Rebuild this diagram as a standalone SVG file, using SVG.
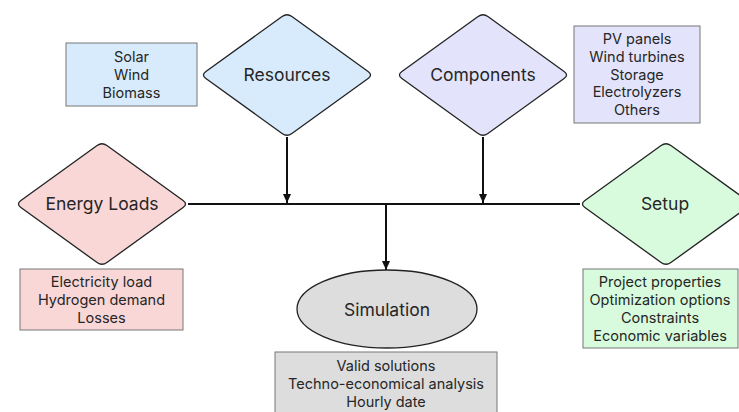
<svg xmlns="http://www.w3.org/2000/svg" xmlns:xlink="http://www.w3.org/1999/xlink" width="739" height="412" viewBox="0 0 739 412">
<style>
.dia{stroke:#222;stroke-width:1.3}
.box{stroke:#777;stroke-width:1}
.t{font-family:Inter,"Liberation Sans",sans-serif;fill:#262626;text-anchor:middle}
.big{font-size:17.5px}
.sm{font-size:14.5px}
.con{stroke:#111;stroke-width:2;fill:none}
</style>
<defs>
<path id="dshape" d="M -81.1 -3.5 L -4.9 -58.5 Q 0 -62 4.9 -58.5 L 81.1 -3.5 Q 86 0 81.1 3.5 L 4.9 58.5 Q 0 62 -4.9 58.5 L -81.1 3.5 Q -86 0 -81.1 -3.5 Z"/>
<marker id="arr" markerWidth="10" markerHeight="10" refX="9" refY="5" orient="auto" markerUnits="userSpaceOnUse">
<path d="M0,1 L9,5 L0,9 Z" fill="#111"/>
</marker>
</defs>
<rect width="739" height="412" fill="#fff"/>
<g id="connectors">
<line class="con" x1="188" y1="204" x2="580" y2="204"/>
<line class="con" x1="287" y1="137" x2="287" y2="203" marker-end="url(#arr)"/>
<line class="con" x1="483" y1="137" x2="483" y2="203" marker-end="url(#arr)"/>
<line class="con" x1="386" y1="204" x2="386" y2="270" marker-end="url(#arr)"/>
</g>
<g id="resources">
<use xlink:href="#dshape" x="287" y="75" class="dia" fill="#d7ebfc"/>
<text class="t big" x="287" y="81">Resources</text>
</g>
<g id="resources-list">
<rect class="box" x="66" y="43" width="131" height="63" fill="#d7ebfc"/>
<text class="t sm" x="131.5" y="62">Solar</text>
<text class="t sm" x="131.5" y="80">Wind</text>
<text class="t sm" x="131.5" y="98">Biomass</text>
</g>
<g id="components">
<use xlink:href="#dshape" x="483" y="75" class="dia" fill="#e3e4fb"/>
<text class="t big" x="483" y="81">Components</text>
</g>
<g id="components-list">
<rect class="box" x="574" y="26" width="126" height="97" fill="#e3e4fb"/>
<text class="t sm" x="637" y="44">PV panels</text>
<text class="t sm" x="637" y="62">Wind turbines</text>
<text class="t sm" x="637" y="80">Storage</text>
<text class="t sm" x="637" y="97">Electrolyzers</text>
<text class="t sm" x="637" y="115">Others</text>
</g>
<g id="energy-loads">
<use xlink:href="#dshape" x="102" y="204" class="dia" fill="#f9d7d7"/>
<text class="t big" x="102" y="210">Energy Loads</text>
</g>
<g id="energy-list">
<rect class="box" x="20" y="269" width="163" height="61" fill="#f9d7d7"/>
<text class="t sm" x="101.5" y="287">Electricity load</text>
<text class="t sm" x="101.5" y="305">Hydrogen demand</text>
<text class="t sm" x="101.5" y="323">Losses</text>
</g>
<g id="setup">
<use xlink:href="#dshape" x="666" y="204" class="dia" fill="#d7fbdc"/>
<text class="t big" x="665" y="210">Setup</text>
</g>
<g id="setup-list">
<rect class="box" x="583" y="269" width="155" height="79" fill="#d7fbdc"/>
<text class="t sm" x="660" y="287">Project properties</text>
<text class="t sm" x="660" y="305">Optimization options</text>
<text class="t sm" x="660" y="323">Constraints</text>
<text class="t sm" x="660" y="341">Economic variables</text>
</g>
<g id="simulation">
<ellipse cx="387" cy="309" rx="90" ry="39" class="dia" fill="#dddddd"/>
<text class="t big" x="387" y="316">Simulation</text>
</g>
<g id="simulation-list">
<rect class="box" x="275" y="352" width="222" height="70" fill="#dddddd"/>
<text class="t sm" x="386" y="371">Valid solutions</text>
<text class="t sm" x="386" y="389">Techno-economical analysis</text>
<text class="t sm" x="386" y="407">Hourly date</text>
</g>
</svg>
